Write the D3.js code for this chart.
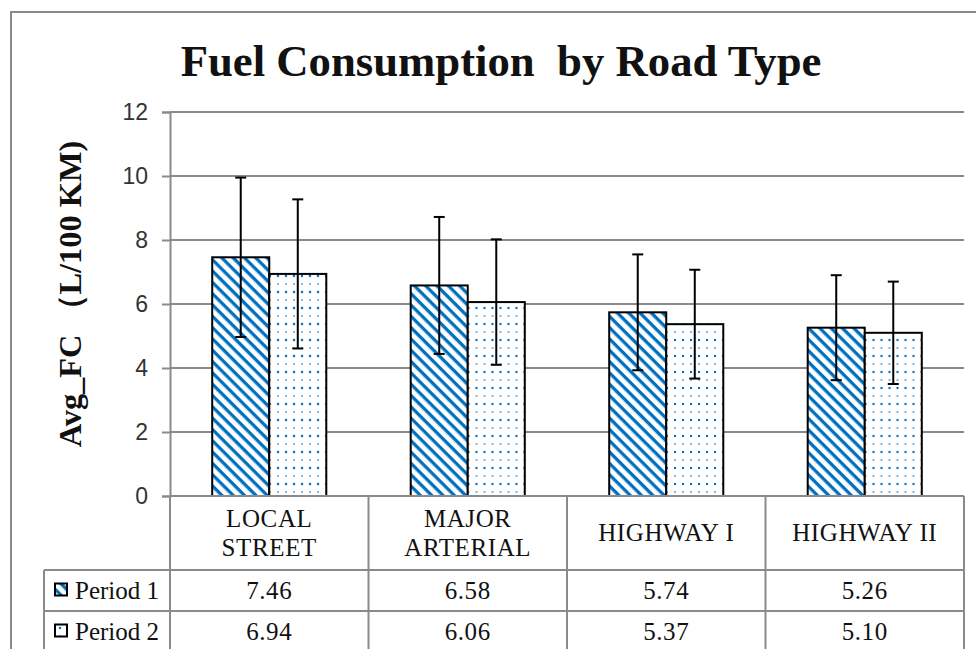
<!DOCTYPE html>
<html>
<head>
<meta charset="utf-8">
<script src="https://cdn.jsdelivr.net/npm/d3@7"></script>
<style>
  body { margin: 0; background: #fff; }
  text { white-space: pre; }
</style>
</head>
<body>
<div id="chart"></div>
<script>
// data
var roadTypes = ["LOCAL STREET", "MAJOR ARTERIAL", "HIGHWAY I", "HIGHWAY II"];
var headerLines = [["LOCAL", "STREET"], ["MAJOR", "ARTERIAL"], ["HIGHWAY I"], ["HIGHWAY II"]];
var seriesNames = ["Period 1", "Period 2"];
var period1 = [7.46, 6.58, 5.74, 5.26];
var period2 = [6.94, 6.06, 5.37, 5.10];
var period1Err = [2.49, 2.14, 1.81, 1.64];
var period2Err = [2.33, 1.96, 1.70, 1.60];
var yTicks = [0, 2, 4, 6, 8, 10, 12];

var W = 976, H = 649;
var plotL = 170, plotR = 964, plotT = 112, plotB = 496;
var gridCol = "#8a8a8a", blue = "#0070c0";

var svg = d3.select("#chart").append("svg")
    .attr("width", W)
    .attr("height", H);

// patterns
var defs = svg.append("defs");
var stripe = defs.append("pattern")
    .attr("id", "stripes")
    .attr("patternUnits", "userSpaceOnUse")
    .attr("width", 8).attr("height", 8)
    .attr("patternTransform", "rotate(45)");
stripe.append("rect").attr("width", 8).attr("height", 8).attr("fill", "#fff");
stripe.append("rect").attr("x", 0).attr("y", 0).attr("width", 8).attr("height", 3.3).attr("fill", blue);

var dots = defs.append("pattern")
    .attr("id", "dots")
    .attr("patternUnits", "userSpaceOnUse")
    .attr("width", 8).attr("height", 16);
dots.append("rect").attr("width", 8).attr("height", 16).attr("fill", "#fff");
dots.append("circle").attr("cx", 4).attr("cy", 4).attr("r", 1.2).attr("fill", blue);
dots.append("circle").attr("cx", 4).attr("cy", 12).attr("r", 1.0).attr("fill", "#5c9fda");

var fills = ["url(#stripes)", "url(#dots)"];

// outer frame
svg.append("rect")
    .attr("x", 11).attr("y", 12)
    .attr("width", 1000).attr("height", 700)
    .attr("fill", "none")
    .attr("stroke", gridCol)
    .attr("stroke-width", 2);

// scales
var y = d3.scaleLinear().domain([0, 12]).range([plotB, plotT]);
var x0 = d3.scaleBand().domain(roadTypes).range([plotL, plotR]).paddingInner(0).paddingOuter(0);
var x1 = d3.scaleBand().domain(seriesNames).range([0, x0.bandwidth()]).paddingInner(0).paddingOuter(0.74);

// grid lines
svg.append("g")
    .selectAll("line")
    .data(yTicks.filter(function (d) { return d > 0; }))
    .enter().append("line")
    .attr("x1", plotL).attr("x2", plotR)
    .attr("y1", function (d) { return y(d); })
    .attr("y2", function (d) { return y(d); })
    .attr("stroke", gridCol)
    .attr("stroke-width", 2);

// y axis
var yAxis = svg.append("g")
    .attr("transform", "translate(" + plotL + ",0)")
    .call(d3.axisLeft(y).tickValues(yTicks).tickSize(8).tickPadding(14).tickFormat(d3.format("d")));
yAxis.select(".domain").attr("stroke", gridCol).attr("stroke-width", 2);
yAxis.selectAll(".tick line").attr("stroke", gridCol).attr("stroke-width", 2);
yAxis.selectAll(".tick text")
    .attr("font-family", "Liberation Sans, Arial, sans-serif")
    .attr("font-size", 23)
    .attr("fill", "#333");

// bars
var rows = roadTypes.map(function (c, i) {
    return { cat: c, vals: [
        { s: seriesNames[0], v: period1[i], e: period1Err[i], k: 0 },
        { s: seriesNames[1], v: period2[i], e: period2Err[i], k: 1 }
    ] };
});

var groups = svg.append("g").selectAll("g")
    .data(rows)
    .enter().append("g")
    .attr("transform", function (d) { return "translate(" + x0(d.cat) + ",0)"; });

groups.selectAll("rect")
    .data(function (d) { return d.vals; })
    .enter().append("rect")
    .attr("x", function (d) { return x1(d.s); })
    .attr("width", x1.bandwidth())
    .attr("y", function (d) { return y(d.v); })
    .attr("height", function (d) { return y(0) - y(d.v); })
    .attr("fill", function (d) { return fills[d.k]; })
    .attr("stroke", "#000")
    .attr("stroke-width", 2);

// error bars
var eb = groups.selectAll("g.err")
    .data(function (d) { return d.vals; })
    .enter().append("g")
    .attr("class", "err")
    .attr("stroke", "#000")
    .attr("stroke-width", 2);
eb.append("line")
    .attr("x1", function (d) { return x1(d.s) + x1.bandwidth() / 2; })
    .attr("x2", function (d) { return x1(d.s) + x1.bandwidth() / 2; })
    .attr("y1", function (d) { return y(d.v + d.e); })
    .attr("y2", function (d) { return y(d.v - d.e); });
[1, -1].forEach(function (sgn) {
    eb.append("line")
        .attr("x1", function (d) { return x1(d.s) + x1.bandwidth() / 2 - 5.5; })
        .attr("x2", function (d) { return x1(d.s) + x1.bandwidth() / 2 + 5.5; })
        .attr("y1", function (d) { return y(d.v + sgn * d.e); })
        .attr("y2", function (d) { return y(d.v + sgn * d.e); });
});

// data table
var rowH = 41, headB = 570, legL = 44;
var tbl = svg.append("g").attr("stroke", gridCol).attr("stroke-width", 2);
tbl.append("line").attr("x1", plotL).attr("x2", plotR).attr("y1", plotB).attr("y2", plotB);
[headB, headB + rowH, headB + 2 * rowH].forEach(function (yy) {
    tbl.append("line").attr("x1", legL).attr("x2", plotR).attr("y1", yy).attr("y2", yy);
});
tbl.append("line").attr("x1", legL).attr("x2", legL).attr("y1", headB).attr("y2", headB + 2 * rowH);
roadTypes.concat([null]).forEach(function (c) {
    var xx = c ? x0(c) : plotR;
    tbl.append("line").attr("x1", xx).attr("x2", xx).attr("y1", plotB).attr("y2", headB + 2 * rowH);
});

var serif = "Liberation Serif, Times New Roman, serif";
var tText = svg.append("g")
    .attr("font-family", serif)
    .attr("font-size", 25)
    .attr("letter-spacing", 0.6)
    .attr("fill", "#111")
    .attr("text-anchor", "middle");

headerLines.forEach(function (lines, i) {
    var cx = x0(roadTypes[i]) + x0.bandwidth() / 2;
    var mid = (plotB + headB) / 2 + 8;
    lines.forEach(function (ln, j) {
        tText.append("text")
            .attr("x", cx)
            .attr("y", mid + (j - (lines.length - 1) / 2) * 29)
            .text(ln);
    });
});

[period1, period2].forEach(function (arr, k) {
    var cy = headB + k * rowH + rowH / 2 + 8;
    arr.forEach(function (v, i) {
        tText.append("text")
            .attr("x", x0(roadTypes[i]) + x0.bandwidth() / 2)
            .attr("y", cy)
            .text(d3.format(".2f")(v));
    });
    svg.append("rect")
        .attr("x", 55).attr("y", cy - 15)
        .attr("width", 12).attr("height", 12)
        .attr("fill", fills[k])
        .attr("stroke", "#000")
        .attr("stroke-width", 2);
    svg.append("text")
        .attr("x", 75).attr("y", cy)
        .attr("font-family", serif)
        .attr("font-size", 25)
        .attr("fill", "#111")
        .text(seriesNames[k]);
});

// title, fitted to the width seen in the picture
var title = svg.append("text")
    .attr("x", 501).attr("y", 76)
    .attr("text-anchor", "middle")
    .attr("font-family", serif)
    .attr("font-weight", "bold")
    .attr("font-size", 44)
    .attr("fill", "#111")
    .text("Fuel Consumption  by Road Type");
var tw = title.node().getComputedTextLength();
title.attr("font-size", 44 * 641 / tw);

// y axis title
var yl = svg.append("text")
    .attr("transform", "translate(81," + 294 + ") rotate(-90)")
    .attr("text-anchor", "middle")
    .attr("font-family", serif)
    .attr("font-weight", "bold")
    .attr("font-size", 28)
    .attr("fill", "#111")
    .text("Avg_FC （L/100 KM)");
var lw = yl.node().getComputedTextLength();
yl.attr("font-size", Math.min(33, 28 * 307 / lw));
</script>
</body>
</html>
